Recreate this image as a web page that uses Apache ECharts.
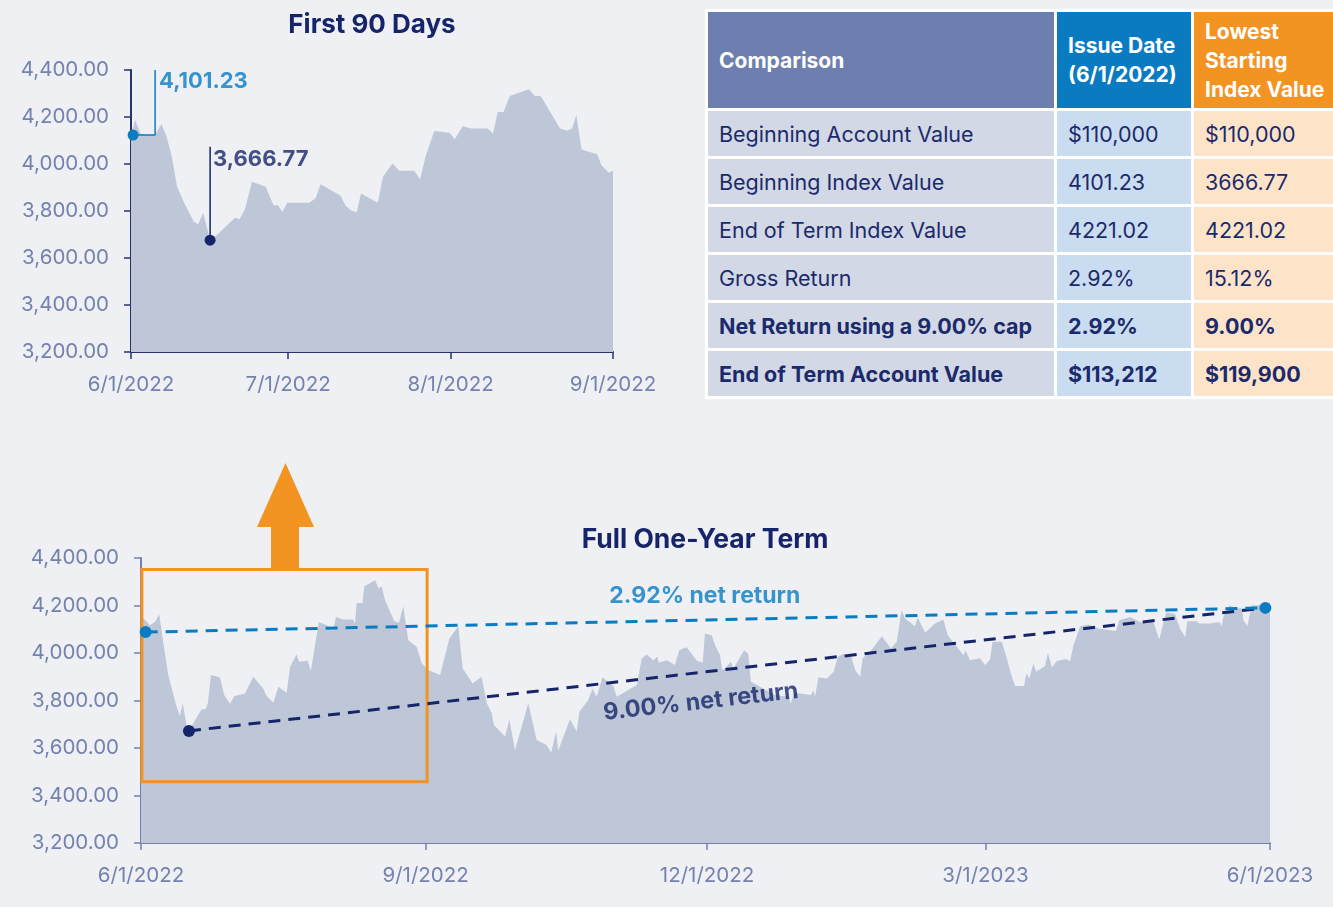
<!DOCTYPE html>
<html>
<head>
<meta charset="utf-8">
<script src="https://cdn.jsdelivr.net/npm/echarts@6/dist/echarts.min.js"></script>
<style>
  html, body { margin: 0; padding: 0; background: #eef0f4; overflow: hidden; }
  #main { position: absolute; left: 0; top: 0; width: 1333px; height: 907px; }
  #cmp { position: absolute; left: 705px; top: 9px; table-layout: fixed; width: 640px;
         border-collapse: separate; border-spacing: 3px; background: #fff;
         font-family: Inter, "Noto Sans", sans-serif; color: #1b2a6b; font-size: 21.5px; }
  #cmp td { padding: 0 0 0 11px; height: 45px; vertical-align: middle; white-space: nowrap; overflow: hidden; }
  #cmp th { padding: 0 0 0 11px; height: 96px; text-align: left; color: #fff; font-size: 21px; line-height: 29px;
            white-space: nowrap; overflow: hidden; }
  #cmp .c1 { width: 335px; background: #d2d8e5; }
  #cmp .c2 { width: 123px; background: #cadcf0; }
  #cmp .c3 { width: 160px; background: #fde4c9; }
  #cmp th.c1 { background: #6d7fae; }
  #cmp th.c2 { background: #0b7bc1; }
  #cmp th.c3 { background: #f39322; }
  #cmp tr.b td { font-weight: bold; }
</style>
</head>
<body>
<div id="main"></div>
<table id="cmp"></table>
<script>
// ---- first 90 days (x = days since 6/1/2022) ----
const topDays = [0, 0.8, 1.8, 2.8, 4.6, 5.8, 6.8, 7.8, 8.8, 10.2, 12.0, 12.8, 13.8, 15.1, 16.7, 19.9, 20.7, 21.7,
  23.1, 25.7, 27.2, 28.0, 28.9, 29.8, 34.0, 35.2, 36.2, 40.0, 41.0, 42.1, 43.1, 43.9, 47.1, 48.1, 49.9, 51.2,
  54.1, 55.2, 56.2, 57.9, 60.8, 61.8, 63.3, 65.0, 68.1, 69.1, 70.0, 71.1, 72.3, 75.9, 77.1, 78.2, 81.9, 83.2,
  84.2, 85.0, 86.0, 89.0, 89.8, 91.2, 92];
const topValues = [4125, 4187, 4130, 4123, 4123, 4170, 4116, 4031, 3903, 3832, 3754, 3744, 3792, 3676, 3704, 3772, 3765, 3804,
  3924, 3903, 3825, 3825, 3796, 3835, 3835, 3853, 3914, 3865, 3821, 3801, 3795, 3875, 3835, 3946, 4002, 3971,
  3971, 3934, 4031, 4140, 4133, 4105, 4161, 4151, 4151, 4130, 4221, 4221, 4289, 4318, 4289, 4289, 4151, 4142,
  4151, 4208, 4062, 4042, 3995, 3963, 3971];

// ---- full one-year term ----
const fullDays = [0, 0.4, 2.9, 4.5, 5.9, 7.5, 8.8, 11.5, 12.6, 13.5, 14.8, 15.5, 17.2, 19.6, 20.9, 21.6, 22.6, 25.5,
  26.9, 28.8, 30.2, 33.6, 36.3, 39.5, 40.6, 42.8, 44.4, 47.1, 48.2, 50.3, 51.1, 53.9, 54.9, 57.5, 60.6, 62.2,
  63.0, 65.4, 68.6, 69.2, 69.7, 71.6, 72.2, 75.7, 76.8, 77.8, 78.9, 81.9, 83.4, 84.8, 86.4, 89.1, 90.8, 92.9,
  96.7, 99.7, 102.6, 104.0, 105.8, 107.2, 110.1, 111.8, 113.4, 114.1, 117.7, 119.1, 120.9, 125.2, 127.9, 131.1,
  132.6, 134.2, 134.9, 138.7, 140.9, 141.7, 144.6, 146.0, 147.3, 149.2, 152.7, 153.8, 160.3, 161.9, 163.5,
  165.6, 166.9, 167.4, 170.0, 172.6, 174.0, 176.4, 179.7, 181.6, 182.3, 184.5, 185.6, 187.2, 187.9, 188.8,
  190.7, 191.5, 195.0, 196.3, 197.2, 205.0, 209.3, 210.1, 211.2, 216.6, 217.4, 217.9, 219.0, 221.7, 223.9,
  225.3, 227.1, 229.6, 230.9, 232.5, 233.3, 236.3, 239.5, 242.5, 244.3, 245.9, 247.0, 250.2, 251.1, 253.5,
  256.7, 259.4, 260.8, 265.9, 266.6, 268.0, 271.2, 272.9, 274.5, 275.3, 278.3, 279.7, 281.2, 282.6, 285.5,
  286.2, 287.2, 288.5, 289.4, 292.3, 293.2, 294.5, 296.1, 298.8, 300.4, 301.4, 303.6, 306.3, 309.5, 315.2,
  316.3, 319.8, 323.0, 327.3, 329.2, 331.4, 334.3, 335.9, 337.6, 338.3, 341.3, 342.0, 345.6, 348.6, 349.4,
  349.9, 351.9, 353.4, 355.9, 356.4, 357.7, 359.1, 362.0, 363.0, 365];
const fullValues = [4140, 4152, 4117, 4131, 4162, 4019, 3907, 3774, 3735, 3788, 3690, 3673, 3711, 3763, 3763, 3788, 3907, 3898,
  3823, 3786, 3819, 3830, 3900, 3851, 3819, 3791, 3858, 3833, 3942, 3994, 3963, 3967, 3924, 4131, 4114, 4096,
  4152, 4141, 4141, 4122, 4211, 4211, 4281, 4306, 4271, 4281, 4222, 4134, 4127, 4197, 4054, 4026, 3956, 3928,
  3907, 4061, 4113, 3935, 3900, 3872, 3900, 3788, 3746, 3697, 3648, 3721, 3589, 3788, 3634, 3613,
  3581, 3669, 3589, 3721, 3669, 3753, 3802, 3851, 3816, 3898, 3861, 3816, 3865, 3978, 3994,
  3970, 3984, 3959, 3970, 3949, 4012, 4024, 3967, 3959, 4082, 4075, 4033, 3991, 3928, 3935,
  3963, 3935, 4012, 3996, 3879, 3823, 3816, 3788, 3833, 3823, 3844, 3816, 3898, 3893, 3921,
  3984, 3996, 3984, 3928, 3900, 3978, 4015, 4071, 4019, 4047, 4180, 4145, 4113, 4150, 4085,
  4124, 4141, 4075, 3991, 4012, 3970, 3978, 3949, 3973, 4047, 4047, 3987, 3915, 3861, 3861,
  3915, 3893, 3956, 3921, 3945, 4001, 3940, 3966, 3975, 3966, 4029, 4113, 4120, 4103, 4093,
  4138, 4152, 4131, 4131, 4057, 4171, 4164, 4103, 4066, 4134, 4134, 4124, 4124, 4131, 4113,
  4152, 4201, 4188, 4188, 4138, 4114, 4201, 4201, 4188, 4215];

// ---- ticks ----
const topTickDays = [0, 30, 61, 92];
const topTickLabels = ['6/1/2022', '7/1/2022', '8/1/2022', '9/1/2022'];
const fullTickDays = [0, 92, 183, 273, 365];
const fullTickLabels = ['6/1/2022', '9/1/2022', '12/1/2022', '3/1/2023', '6/1/2023'];
const yMin = 3200, yMax = 4400, yStep = 200;

// ---- annotation points [day, value] ----
const topIssuePt = [0.4, 4123];
const topIssueLeader = [[0.4, 4123], [4.6, 4123], [4.6, 4400]];
const topLowPt = [15.1, 3676];
const topLowLeader = [[15.1, 3676], [15.1, 4073]];
const fullIssuePt = [1.5, 4088];
const fullLowPt = [15.5, 3672];
const fullEndPt = [363.5, 4190];
const zoomBox = [[0.3, 4352], [92.5, 3458]];

// ---- table ----
const rowLabels = ['Beginning Account Value', 'Beginning Index Value', 'End of Term Index Value',
  'Gross Return', 'Net Return using a 9.00% cap', 'End of Term Account Value'];
const issueCol = ['$110,000', '4101.23', '4221.02', '2.92%', '2.92%', '$113,212'];
const lowestCol = ['$110,000', '3666.77', '4221.02', '15.12%', '9.00%', '$119,900'];
const boldRows = [4, 5];

let html = '<tr><th class="c1">Comparison</th><th class="c2">Issue Date<br>(6/1/2022)</th>' +
  '<th class="c3">Lowest<br>Starting<br>Index Value</th></tr>';
rowLabels.forEach((r, i) => {
  html += '<tr' + (boldRows.includes(i) ? ' class="b"' : '') + '><td class="c1">' + r + '</td><td class="c2">' +
    issueCol[i] + '</td><td class="c3">' + lowestCol[i] + '</td></tr>';
});
document.getElementById('cmp').innerHTML = html;

const navy = '#16256a', blue = '#0a7cc1', orange = '#f39321', areaFill = '#bec7d8', labelColor = '#7482ad';
const font = 'Inter, "Noto Sans", sans-serif';
const pairs = (d, v) => d.map((x, i) => [x, v[i]]);

function xAxisFor(gi, max, ticks, labels, lineColor) {
  return {
    type: 'value', gridIndex: gi, min: 0, max: max,
    splitLine: { show: false },
    axisLine: { show: true, lineStyle: { color: lineColor, width: 2 } },
    axisTick: { show: true, customValues: ticks, length: 7, lineStyle: { color: lineColor, width: 1.5 } },
    axisLabel: {
      customValues: ticks, margin: 22, color: labelColor, fontSize: 20.5, fontFamily: font,
      formatter: v => labels[ticks.indexOf(v)] || ''
    }
  };
}
function yAxisFor(gi, lineColor) {
  return {
    type: 'value', gridIndex: gi, min: yMin, max: yMax, interval: yStep,
    splitLine: { show: false },
    axisLine: { show: true, lineStyle: { color: lineColor, width: 2 } },
    axisTick: { show: true, length: 7, lineStyle: { color: lineColor, width: 1.5 } },
    axisLabel: {
      margin: 22, color: labelColor, fontSize: 20.5, fontFamily: font,
      formatter: v => v.toLocaleString('en-US', { minimumFractionDigits: 2, maximumFractionDigits: 2 })
    }
  };
}
function textPt(xi, pt, text, color, extra) {
  return {
    type: 'scatter', xAxisIndex: xi, yAxisIndex: xi, symbolSize: 0, z: 10, silent: true, clip: false,
    data: [pt],
    label: Object.assign({ show: true, formatter: text, color: color, fontSize: 23, fontWeight: 'bold',
      fontFamily: font }, extra)
  };
}
function dots(xi, pts, color, size, z) {
  return { type: 'scatter', xAxisIndex: xi, yAxisIndex: xi, data: pts, symbolSize: size, z: z, clip: false,
    silent: true, itemStyle: { color: color, opacity: 1 } };
}

const chart = echarts.init(document.getElementById('main'));
chart.setOption({
  backgroundColor: '#eef0f4',
  animation: false,
  grid: [
    { left: 131, top: 70, width: 482, height: 282 },
    { left: 141, top: 558, width: 1129, height: 285 }
  ],
  xAxis: [
    xAxisFor(0, 92, topTickDays, topTickLabels, '#25346f'),
    xAxisFor(1, 365, fullTickDays, fullTickLabels, '#7180b0')
  ],
  yAxis: [yAxisFor(0, '#25346f'), yAxisFor(1, '#7180b0')],
  graphic: [
    { type: 'text', x: 372, y: 25, style: { text: 'First 90 Days', align: 'center', verticalAlign: 'middle',
      fill: navy, font: 'bold 26px ' + font } },
    { type: 'text', x: 705, y: 540, style: { text: 'Full One-Year Term', align: 'center', verticalAlign: 'middle',
      fill: navy, font: 'bold 26.5px ' + font } },
    // arrow pointing up from the zoom box to the first chart
    { type: 'polygon', shape: { points: [[257, 527], [314, 527], [285.5, 463]] }, style: { fill: orange } },
    { type: 'rect', shape: { x: 271, y: 526, width: 28, height: 43 }, style: { fill: orange } }
  ],
  series: [
    // first 90 days
    {
      type: 'line', xAxisIndex: 0, yAxisIndex: 0, data: pairs(topDays, topValues), symbol: 'none', z: 1,
      lineStyle: { width: 0 }, areaStyle: { color: areaFill, opacity: 1 }
    },
    {
      type: 'line', xAxisIndex: 0, yAxisIndex: 0, data: topIssueLeader, symbol: 'none', z: 4,
      lineStyle: { color: blue, width: 1.5 }
    },
    {
      type: 'line', xAxisIndex: 0, yAxisIndex: 0, data: topLowLeader, symbol: 'none', z: 4,
      lineStyle: { color: navy, width: 1.5 }
    },
    dots(0, [topIssuePt], blue, 11, 5),
    dots(0, [topLowPt], navy, 11, 5),
    textPt(0, topIssueLeader[2], '4,101.23', blue, { position: 'right', distance: 4, offset: [0, 11], fontSize: 22 }),
    textPt(0, topLowLeader[1], '3,666.77', navy, { position: 'right', distance: 3, offset: [0, 13], fontSize: 22 }),

    // full one-year term
    {
      type: 'line', xAxisIndex: 1, yAxisIndex: 1, data: pairs(fullDays, fullValues), symbol: 'none', z: 1,
      lineStyle: { width: 0 }, areaStyle: { color: areaFill, opacity: 1 }
    },
    {
      type: 'line', xAxisIndex: 1, yAxisIndex: 1, z: 3, symbol: 'none', silent: true,
      data: [fullLowPt, fullEndPt],
      lineStyle: { color: navy, width: 3, type: [12, 8] },
      markArea: {
        silent: true, z: 3,
        itemStyle: { color: 'rgba(0,0,0,0)', borderColor: orange, borderWidth: 3 },
        data: [[{ coord: zoomBox[0] }, { coord: zoomBox[1] }]]
      }
    },
    {
      type: 'line', xAxisIndex: 1, yAxisIndex: 1, z: 4, symbol: 'none', silent: true,
      data: [fullIssuePt, fullEndPt],
      lineStyle: { color: blue, width: 3, type: [12, 8] }
    },
    dots(1, [fullLowPt], navy, 12, 5),
    dots(1, [fullIssuePt, fullEndPt], blue, 12, 6),
    textPt(1, [182.3, 4239], '2.92% net return', blue, { position: 'inside', fontSize: 23 }),
    textPt(1, [181, 3794], '9.00% net return', navy, { position: 'inside', fontSize: 23.5, rotate: 6.5 })
  ]
});
</script>
</body>
</html>
